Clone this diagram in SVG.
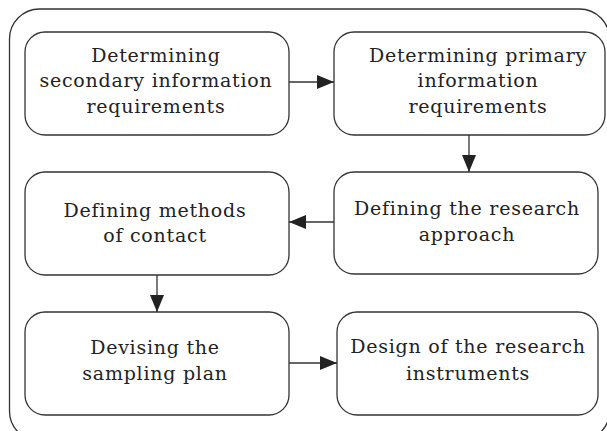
<svg xmlns="http://www.w3.org/2000/svg" width="607" height="431" viewBox="0 0 607 431">
<style>
.box{fill:#fff;stroke:#333;stroke-width:1.3}
.frame{fill:none;stroke:#333;stroke-width:1.3}
.t{font-family:"DejaVu Serif","Liberation Serif",serif;font-size:19px;letter-spacing:0.75px;fill:#222;text-anchor:middle}
.c{stroke:#333;stroke-width:1.3;fill:none;marker-end:url(#ah)}
</style>
<defs>
<marker id="ah" markerWidth="18" markerHeight="14" refX="17" refY="7" orient="auto" markerUnits="userSpaceOnUse">
<path d="M0,0 L17,7 L0,14 Z" fill="#222"/>
</marker>
</defs>
<rect class="frame" x="9.5" y="9" width="600" height="432" rx="30"/>
<g id="n1"><rect class="box" x="25" y="32" width="264" height="103" rx="20"/>
<text class="t" x="156" y="62">Determining</text><text class="t" x="156" y="87">secondary information</text><text class="t" x="156" y="113">requirements</text></g>
<g id="n2"><rect class="box" x="334" y="32" width="271" height="103" rx="20"/>
<text class="t" x="478" y="62">Determining primary</text><text class="t" x="478" y="87">information</text><text class="t" x="478" y="113">requirements</text></g>
<g id="n3"><rect class="box" x="25" y="172" width="264" height="103" rx="20"/>
<text class="t" x="155" y="217">Defining methods</text><text class="t" x="155" y="242">of contact</text></g>
<g id="n4"><rect class="box" x="334" y="172" width="264" height="102" rx="20"/>
<text class="t" x="467" y="215">Defining the research</text><text class="t" x="467" y="241">approach</text></g>
<g id="n5"><rect class="box" x="25" y="312" width="264" height="103" rx="20"/>
<text class="t" x="155" y="354">Devising the</text><text class="t" x="155" y="380">sampling plan</text></g>
<g id="n6"><rect class="box" x="337" y="312" width="261" height="103" rx="20"/>
<text class="t" x="468" y="353">Design of the research</text><text class="t" x="468" y="380">instruments</text></g>
<g id="connectors">
<path class="c" d="M289,82 H334"/>
<path class="c" d="M469,135 V172"/>
<path class="c" d="M334,222 H289"/>
<path class="c" d="M157,275 V312"/>
<path class="c" d="M289,363 H337"/>
</g>
</svg>
